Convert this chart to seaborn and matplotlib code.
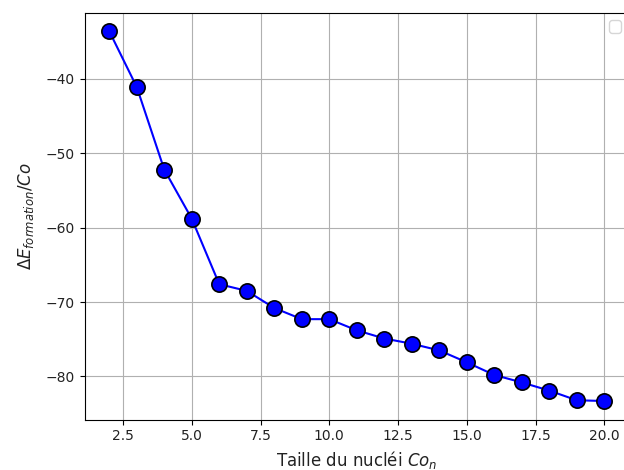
import matplotlib
matplotlib.use("Agg")
import matplotlib.pyplot as plt
import seaborn as sns
import pandas as pd

sizes = list(range(2, 21))
energies = [-33.6, -41.1, -52.2, -58.8, -67.6, -68.5, -70.8, -72.3, -72.3,
            -73.8, -74.9, -75.6, -76.5, -78.1, -79.8, -80.8, -81.9, -83.2, -83.3]

df = pd.DataFrame({"n": sizes, "E": energies})

sns.set_theme(style="white")
plt.rcParams['font.family'] = ['DejaVu Sans']
plt.rcParams['mathtext.fontset'] = 'dejavusans'

fig = plt.figure(figsize=(6.24, 4.70), dpi=100)
ax = fig.add_axes([84.5 / 624, 50.5 / 470, (629 - 84.5) / 624, (419.5 - 12.7) / 470])

sns.lineplot(data=df, x="n", y="E", ax=ax, color="blue", linewidth=1.5,
             marker="o", markersize=11, markerfacecolor="blue",
             markeredgecolor="black", markeredgewidth=1.2)

ax.set_xticks([2.5, 5.0, 7.5, 10.0, 12.5, 15.0, 17.5, 20.0])
ax.set_yticks([-40, -50, -60, -70, -80])
ax.grid(True, color="#b0b0b0", linewidth=0.8)
ax.tick_params(axis="both", which="both", direction="out", length=3.5, width=0.8,
               labelsize=10, colors="black", labelcolor="#222222", bottom=True, left=True)
for s in ax.spines.values():
    s.set_edgecolor("black")
    s.set_linewidth(0.8)

ax.set_xlabel(r"Taille du nucléi $Co_n$", fontsize=12, color="#222222", labelpad=4)
ax.set_ylabel(r"$\Delta E_{formation}/Co$", fontsize=12, color="#222222", labelpad=7)
ax.legend(handles=[], loc="upper right")

fig.savefig("out.png", dpi=100)
